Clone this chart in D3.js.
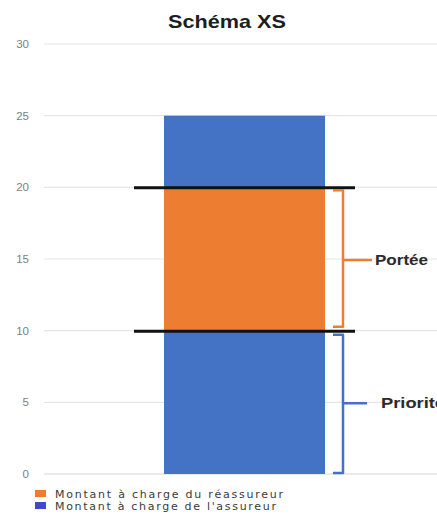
<!DOCTYPE html>
<html><head><meta charset="utf-8">
<script src="https://cdn.jsdelivr.net/npm/d3@7"></script>
<style>body{margin:0;background:#fff}svg{display:block}</style>
</head><body>
<svg id="c" width="437" height="515"></svg>
<script>
const title = "Schéma XS";
const yTicks = [0, 5, 10, 15, 20, 25, 30];
// stacked segments of the single bar
const segments = [
  {series: "assureur", from: 0, to: 10},
  {series: "reassureur", from: 10, to: 20},
  {series: "assureur", from: 20, to: 25}
];
const limits = [10, 20];
const braces = [
  {label: "Portée", from: 10, to: 20, color: "#ED7D31"},
  {label: "Priorité", from: 0, to: 10, color: "#4472C4"}
];
const legendLabels = ["Montant à charge du réassureur", "Montant à charge de l'assureur"];
const legendColors = ["#F47A2C", "#4049CC"];
const colors = {assureur: "#4472C4", reassureur: "#ED7D31"};

const svg = d3.select("#c");
const y = d3.scaleLinear().domain([0, 30]).range([474, 44]);

// gridlines
svg.append("g").selectAll("line").data(yTicks).join("line")
  .attr("x1", 44).attr("x2", 437)
  .attr("y1", d => y(d)).attr("y2", d => y(d))
  .attr("stroke", d => d === 0 ? "#d6d6d6" : "#e6e6e6").attr("stroke-width", 1.2);

// tick labels
svg.append("g").selectAll("text").data(yTicks).join("text")
  .attr("x", 29).attr("y", d => y(d) + 4)
  .attr("text-anchor", "end")
  .attr("font-family", "Liberation Sans, Arial, sans-serif")
  .attr("font-size", 11.5).attr("fill", "#7e7e7e")
  .text(d => d);

// bar
const bx0 = 164, bx1 = 325;
svg.append("g").selectAll("rect").data(segments).join("rect")
  .attr("x", bx0).attr("width", bx1 - bx0)
  .attr("y", d => y(d.to)).attr("height", d => y(d.from) - y(d.to))
  .attr("fill", d => colors[d.series]);

// black limit lines
svg.append("g").selectAll("line").data(limits).join("line")
  .attr("x1", 134).attr("x2", 355)
  .attr("y1", d => y(d) + 0.5).attr("y2", d => y(d) + 0.5)
  .attr("stroke", "#111").attr("stroke-width", 3);

// braces
const bg = svg.append("g");
braces.forEach((b, i) => {
  const top = y(b.to) + (i === 0 ? 3 : 4);
  const bot = y(b.from) - (i === 0 ? 4 : 1);
  const mid = (y(b.to) + y(b.from)) / 2 + 1;
  const vx = 343;
  const path = `M${vx - 10},${top} L${vx},${top} L${vx},${bot} L${vx - 10},${bot} M${vx},${mid} L${i === 0 ? 372 : 367},${mid}`;
  bg.append("path").attr("d", path).attr("fill", "none")
    .attr("stroke", b.color).attr("stroke-width", 2.5).attr("stroke-linejoin", "round");
  bg.append("text").attr("x", i === 0 ? 375 : 381).attr("y", mid + 5)
    .attr("font-family", "Liberation Sans, Arial, sans-serif").attr("font-weight", "bold")
    .attr("font-size", 15).attr("fill", "#2b2b2b")
    .attr("textLength", i === 0 ? 53 : 64).attr("lengthAdjust", "spacingAndGlyphs")
    .text(b.label);
});

// title
svg.append("text").attr("x", 168).attr("y", 28)
  .attr("font-family", "Liberation Sans, Arial, sans-serif").attr("font-weight", "bold")
  .attr("font-size", 19).attr("fill", "#1e1e1e")
  .attr("textLength", 118).attr("lengthAdjust", "spacingAndGlyphs").text(title);

// legend
const lg = svg.append("g");
legendLabels.forEach((t, i) => {
  lg.append("rect").attr("x", 35).attr("y", 490 + i * 12).attr("width", 11).attr("height", 7)
    .attr("fill", legendColors[i]);
  lg.append("text").attr("x", 55).attr("y", 498 + i * 12)
    .attr("font-family", "DejaVu Sans, Verdana, sans-serif")
    .attr("font-size", 11).attr("fill", "#3a3a3a")
    .attr("textLength", i === 0 ? 228 : 221).attr("lengthAdjust", "spacing")
    .text(t);
});
</script>
</body></html>
